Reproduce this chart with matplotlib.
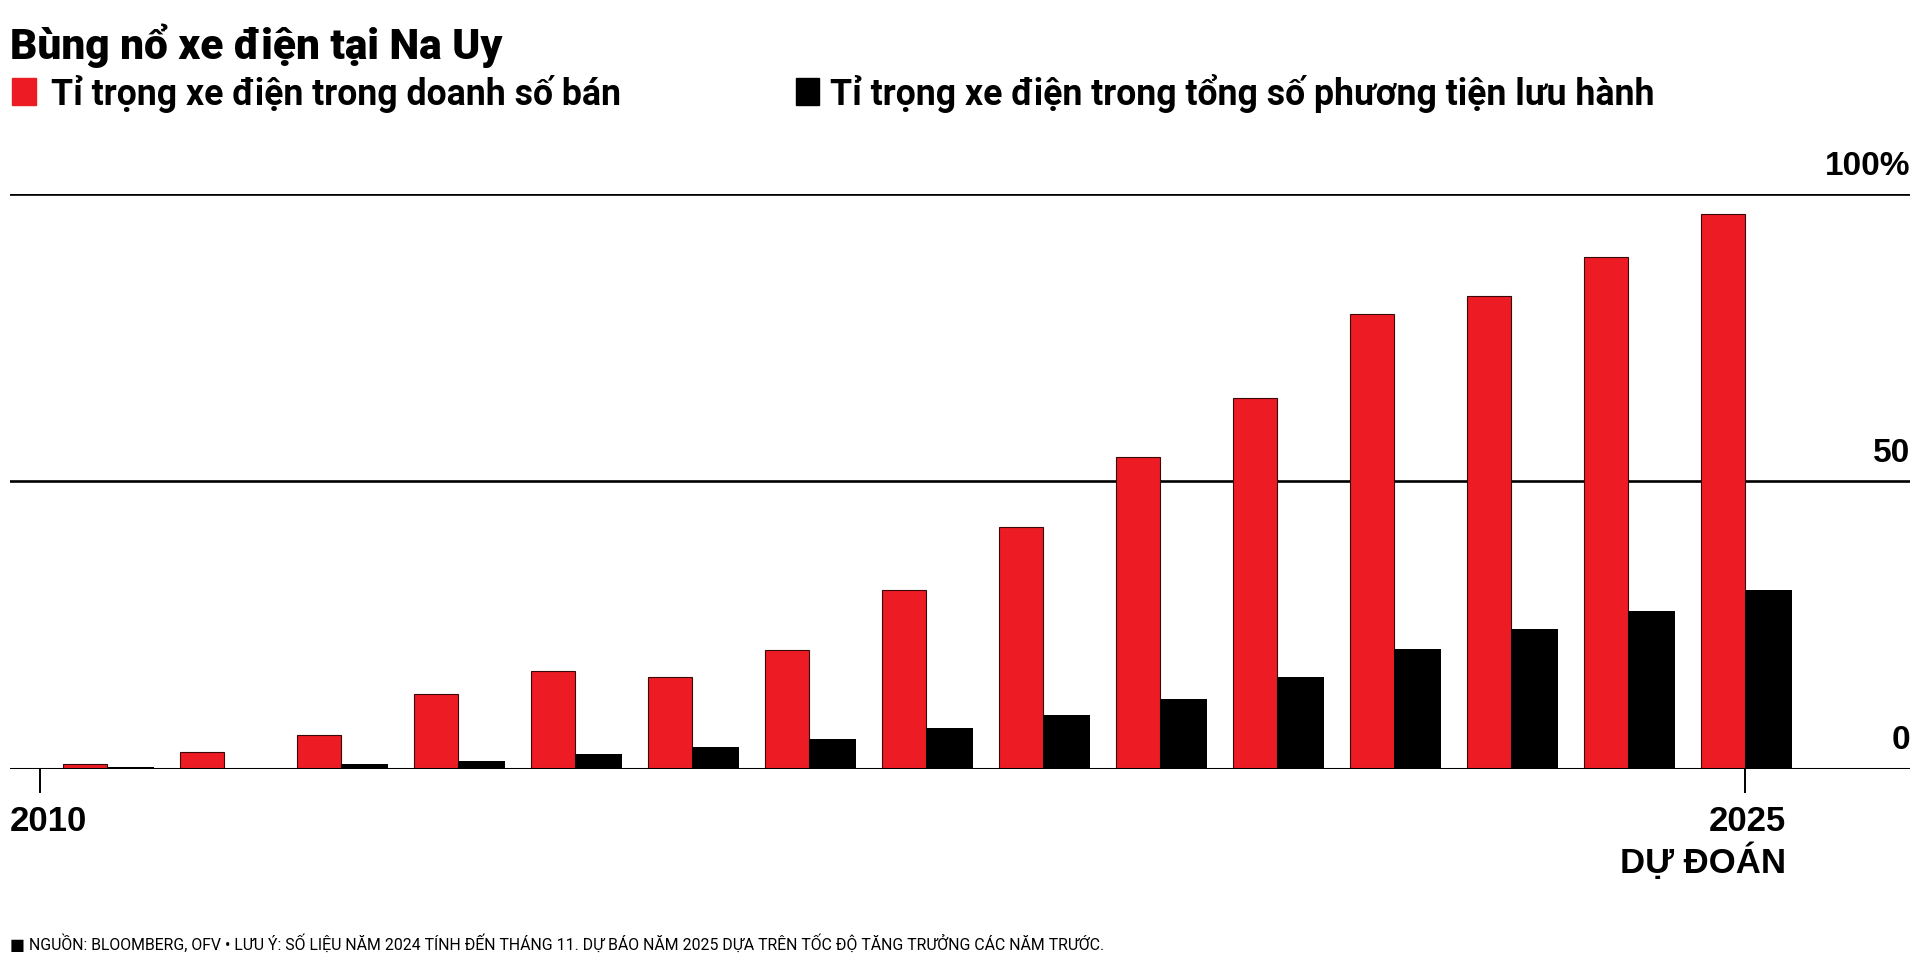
import matplotlib
matplotlib.use("Agg")
import matplotlib.pyplot as plt
from matplotlib.patches import Rectangle
import numpy as np

# data (percent)
years = [2011, 2012, 2013, 2014, 2015, 2016, 2017, 2018,
         2019, 2020, 2021, 2022, 2023, 2024, 2025]
sales_share = [0.8, 2.9, 5.9, 13.0, 17.0, 16.0, 20.6, 31.1,
               42.1, 54.3, 64.5, 79.1, 82.3, 89.1, 96.6]
fleet_share = [0.3, 0.1, 0.9, 1.4, 2.6, 3.8, 5.1, 7.0,
               9.4, 12.1, 16.0, 20.9, 24.3, 27.4, 31.1]
y_ticks = [0, 50, 100]
y_labels = ["0", "50", "100%"]

RED = "#ED1C24"
HEAD = ["Roboto", "DejaVu Sans"]
SANS = ["Liberation Sans", "DejaVu Sans"]

W, H = 1920, 960


def fx(px):
    return px / W


def fy(py):
    return 1 - py / H


fig = plt.figure(figsize=(19.2, 9.6), dpi=100)
ax = fig.add_axes([fx(10), fy(768.7), fx(1910) - fx(10), fy(194) - fy(768.7)])

x = np.arange(len(years))
ax.bar(x, sales_share, width=-0.38, align="edge", color=RED,
       edgecolor="#3a0808", linewidth=0.8, zorder=3)
ax.bar(x, fleet_share, width=0.40, align="edge", color="black", zorder=3)

ax.set_xlim(-0.829, 15.41)
ax.set_ylim(0, 100)
for s in ax.spines.values():
    s.set_visible(False)
ax.set_yticks([])

for v in [50, 100]:
    ax.axhline(v, color="black", lw=1.9, zorder=1)
ax.axhline(0, color="black", lw=2.2, zorder=4)

for v, lab in zip(y_ticks, y_labels):
    ax.annotate(lab, xy=(1, v), xycoords=("axes fraction", "data"),
                xytext=(0, 14), textcoords="offset points",
                ha="right", va="baseline", fontsize=24,
                fontweight="bold", family=SANS)

# x ticks: start of 2010 and the forecast year
first_tick = -0.573
ax.set_xticks([first_tick, x[-1]])
ax.set_xticklabels([])
ax.tick_params(axis="x", length=17, width=1.4, direction="out", color="black")

fig.text(fx(10), fy(831), "2010", ha="left", va="baseline",
         fontsize=25, fontweight="bold", family=SANS)
fig.text(fx(1786), fy(831), "2025", ha="right", va="baseline",
         fontsize=25, fontweight="bold", family=SANS)
fig.text(fx(1786), fy(873), "DỰ ĐOÁN", ha="right", va="baseline",
         fontsize=25, fontweight="bold", family=SANS)

# title and legend
fig.text(fx(10), fy(59), "Bùng nổ xe điện tại Na Uy", ha="left", va="baseline",
         fontsize=30.5, fontweight="black", family=HEAD)

fig.add_artist(Rectangle((fx(12), fy(105)), fx(36) - fx(12), fy(78) - fy(105),
                         transform=fig.transFigure, color=RED))
fig.text(fx(51), fy(105), "Tỉ trọng xe điện trong doanh số bán", ha="left",
         va="baseline", fontsize=25.7, fontweight="bold", family=HEAD)
fig.add_artist(Rectangle((fx(796), fy(105)), fx(819) - fx(796), fy(78) - fy(105),
                         transform=fig.transFigure, color="black"))
fig.text(fx(830), fy(105), "Tỉ trọng xe điện trong tổng số phương tiện lưu hành",
         ha="left", va="baseline", fontsize=25.7, fontweight="bold", family=HEAD)

fig.text(fx(10), fy(950),
         "■ NGUỒN: BLOOMBERG, OFV • LƯU Ý: SỐ LIỆU NĂM 2024 TÍNH ĐẾN THÁNG 11. "
         "DỰ BÁO NĂM 2025 DỰA TRÊN TỐC ĐỘ TĂNG TRƯỞNG CÁC NĂM TRƯỚC.",
         ha="left", va="baseline", fontsize=11.4, family=HEAD)

fig.savefig("out.png", dpi=100)
